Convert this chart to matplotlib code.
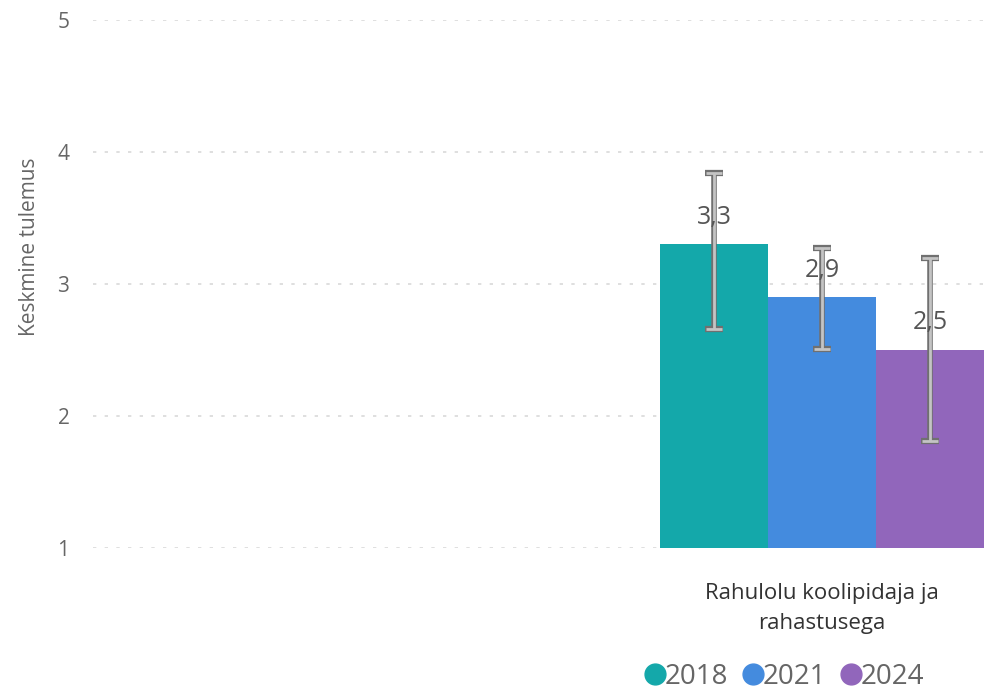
import numpy as np
import matplotlib.pyplot as plt
from matplotlib.lines import Line2D

plt.rcParams['font.family'] = ['Open Sans', 'DejaVu Sans']

years = ['2018', '2021', '2024']
category = 'Rahulolu koolipidaja ja\nrahastusega'
means = [3.3, 2.9, 2.5]
err_low = [2.66, 2.51, 1.81]
err_high = [3.84, 3.27, 3.20]
labels = ['3,3', '2,9', '2,5']
colors = ['#14a8aa', '#448bde', '#9166bb']

fig = plt.figure(figsize=(9.85, 6.9), dpi=100)
ax = fig.add_axes([93/985, 1-548/690, 892/985, 528/690])

x = np.array([-1, 0, 1])
ax.bar(x, means, width=1.0, color=colors, zorder=2)

m = np.array(means)
yerr = [m - np.array(err_low), np.array(err_high) - m]
# dark outline then light fill for the error bars
ax.errorbar(x, means, yerr=yerr, fmt='none', ecolor='#707070',
            elinewidth=4, capsize=6.5, capthick=4.5, zorder=3)
ax.errorbar(x, means, yerr=yerr, fmt='none', ecolor='#c4c4c4',
            elinewidth=2, capsize=6, capthick=2, zorder=4)

for xi, v, t in zip(x, means, labels):
    ax.annotate(t, (xi, v), xytext=(0, 27), textcoords='offset pixels',
                ha='center', va='center', fontsize=18, color='#555555',
                zorder=5)

ax.set_ylim(1, 5)
ax.set_xlim(-6.75, 1.51)
ax.set_yticks([1, 2, 3, 4, 5])
ax.yaxis.grid(True, color='#d9d9d9', linestyle=(0, (2, 5)), linewidth=1.2, zorder=0)
ax.set_axisbelow(True)
for s in ax.spines.values():
    s.set_visible(False)
ax.tick_params(axis='y', length=0, pad=17, labelsize=15, labelcolor='#666666')
ax.set_xticks([0])
ax.set_xticklabels([category], fontsize=16, color='#333333', linespacing=1.55)
ax.tick_params(axis='x', length=0, pad=25)

fig.text(30/985, 1-247/690, 'Keskmine tulemus', rotation=90, ha='center',
         va='center', fontsize=15, color='#666666')

handles = [Line2D([], [], marker='o', linestyle='none', markersize=15,
                  markerfacecolor=c, markeredgecolor=c) for c in colors]
fig.legend(handles, years, loc='center', bbox_to_anchor=(782/985, 1-677/690),
           ncol=3, frameon=False, fontsize=20, labelcolor='#666666',
           handletextpad=-0.2, columnspacing=0.35, handlelength=1.1)

fig.savefig('out.png', dpi=100)
